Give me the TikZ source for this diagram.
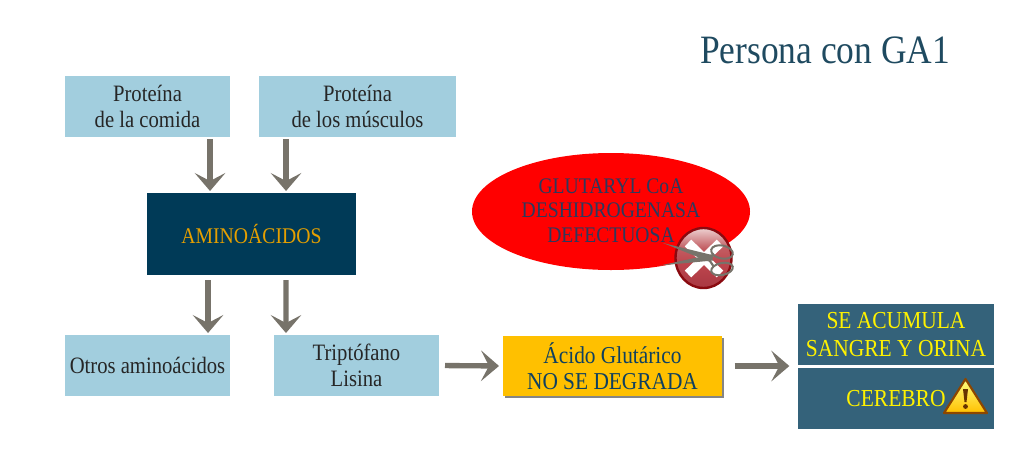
\documentclass[tikz,border=0pt]{standalone}
\usepackage{fontspec}
\setmainfont[FakeStretch=0.88]{Liberation Serif}
\usetikzlibrary{arrows.meta,shadows,calc,shapes.geometric}
\definecolor{lblue}{HTML}{A2CEDE}
\definecolor{navy}{HTML}{003A57}
\definecolor{amberT}{HTML}{E59F00}
\definecolor{amberB}{HTML}{FFC000}
\definecolor{tealB}{HTML}{34627A}
\definecolor{titleC}{HTML}{1F4A60}
\definecolor{arrowC}{HTML}{77736A}
\definecolor{ellT}{HTML}{2B3A5E}
\definecolor{deepT}{HTML}{0F4060}
\definecolor{iconR}{HTML}{B8424A}
\definecolor{iconD}{HTML}{8A0A10}
\pgfdeclareverticalshading{iconshade}{100bp}{
 rgb(0bp)=(0.66,0.22,0.26); rgb(25bp)=(0.66,0.22,0.26); rgb(45bp)=(0.74,0.27,0.30);
 rgb(58bp)=(0.76,0.36,0.38); rgb(75bp)=(0.93,0.82,0.82); rgb(100bp)=(0.93,0.82,0.82)}
\tikzset{
 px/.style={x=0.75pt,y=-0.75pt},
 box/.style={rectangle,inner sep=0pt,outer sep=0pt,align=center,font=\fontsize{17.6}{19.5}\selectfont},
 lightbox/.style={box,fill=lblue,text=black!85},
 tealbox/.style={box,fill=tealB,text=yellow,font=\fontsize{18.3}{20.5}\selectfont},
 flow/.style={draw=arrowC,line width=4pt,-{Stealth[length=13.5pt,width=23pt,inset=6pt]},shorten <=1.5pt,shorten >=1.5pt},
}
\begin{document}
\begin{tikzpicture}[px]
\useasboundingbox (0,0) rectangle (1024,468);
\node[font=\fontsize{30.2}{32}\selectfont,text=titleC,inner sep=0pt] (title) at (825,50) {Persona con GA1};
\node[lightbox,minimum width=123.75pt,minimum height=45.75pt] (p1) at (147.5,106.5) {Proteína\\de la comida};
\node[lightbox,minimum width=147.75pt,minimum height=45.75pt] (p2) at (357.5,106.5) {Proteína\\de los músculos};
\node[box,fill=navy,text=amberT,minimum width=156.75pt,minimum height=61.5pt,font=\fontsize{16.8}{19}\selectfont] (aa) at (251.5,234) {AMINOÁCIDOS};
\node[lightbox,minimum width=123.75pt,minimum height=45.75pt] (otros) at (147.5,365.5) {Otros aminoácidos};
\node[lightbox,minimum width=123.75pt,minimum height=45.75pt] (trip) at (356.5,365.5) {Triptófano\\Lisina};
\node[box,fill=amberB,text=deepT,minimum width=164.25pt,minimum height=45pt,font=\fontsize{18.2}{19.5}\selectfont,
  drop shadow={shadow xshift=1.6pt,shadow yshift=-1.6pt,fill=black!60,opacity=.8}] (acido) at (612.5,366) {Ácido Glutárico\\NO SE DEGRADA};
\node[tealbox,minimum width=147pt,minimum height=45.75pt] (se) at (896,334.5) {SE ACUMULA\\SANGRE Y ORINA};
\node[tealbox,minimum width=147pt,minimum height=45.75pt] (cer) at (896,398.5) {CEREBRO};
\node[ellipse,fill=red,inner sep=0pt,minimum width=208.5pt,minimum height=87.75pt,text=ellT,align=center,font=\fontsize{16.7}{18.4}\selectfont] (enz) at (611,211.5) {\raisebox{1.5pt}{GLUTARYL CoA}\\\raisebox{1.5pt}{DESHIDROGENASA}\\\raisebox{1.5pt}{DEFECTUOSA}};
% arrows
\draw[flow] ([xshift=46.9pt]p1.south) -- ([xshift=-31.1pt]aa.north);
\draw[flow] ([xshift=-53.6pt]p2.south) -- ([xshift=25.9pt]aa.north);
\draw[flow,shorten <=3.8pt] ([xshift=-32.6pt]aa.south) -- ([xshift=45.4pt]otros.north);
\draw[flow,shorten <=3.8pt] ([xshift=25.9pt]aa.south) -- ([xshift=-52.9pt]trip.north);
\draw[flow,shorten <=4.5pt,shorten >=3pt] (trip.east) -- (acido.west);
\draw[flow,shorten <=9.5pt,shorten >=6.5pt] (acido.east) -- (acido.east -| se.west);
% error icon
\shade[shading=iconshade,draw=iconD,line width=1.8pt] (703.5,258) ellipse [x radius=28,y radius=30];
\draw[white,line width=7pt] (688,243) -- (720,274) (720,243) -- (688,274);
% scissors
\fill[arrowC] (663,243) -- (714,255.5) -- (710,262) -- cycle;
\fill[arrowC] (660,265.5) -- (711,254.5) -- (713,260.5) -- cycle;
\draw[arrowC,line width=1.5pt,rotate around={-12:(722,252)}] (722,252) ellipse [x radius=11,y radius=6.5];
\draw[arrowC,line width=1.5pt,rotate around={12:(722,269)}] (722,269) ellipse [x radius=11,y radius=6];
\draw[arrowC,line width=1.6pt] (708,258) -- (714,254) (708,258) -- (714,267);
% warning icon
\shade[top color=yellow!50!white,bottom color=amberB,draw=black!45!orange,line width=1.6pt,line join=round] (965.5,379) -- (987,413) -- (944,413) -- cycle;
\fill[black!60!orange] (963,389) -- (968,389) -- (966.5,402) -- (964.5,402) -- cycle;
\fill[black!60!orange] (965.5,406.5) circle (2.4);
\end{tikzpicture}
\end{document}
